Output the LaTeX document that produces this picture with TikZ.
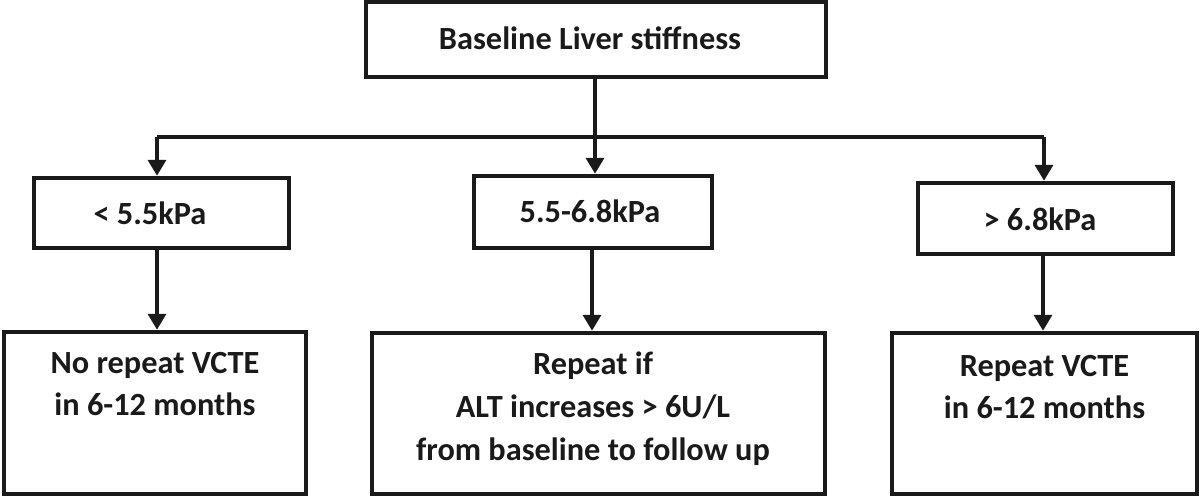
\documentclass[tikz,border=0pt]{standalone}
\usepackage{fontspec}
\setmainfont{Carlito}
\usetikzlibrary{arrows.meta}
\definecolor{ink}{HTML}{1A1A1A}
\begin{document}
\begin{tikzpicture}[x=0.02cm,y=-0.02cm,
  box/.style 2 args={draw=ink, line width=2.5pt, inner sep=0pt,
    minimum width=#1*0.02cm, minimum height=#2*0.02cm},
  txt/.style={font=\fontsize{18.4pt}{24.4pt}\selectfont\bfseries, align=center,
    inner sep=0pt, text=ink},
  conn/.style={draw=ink, line width=2.5pt},
  arr/.style={conn, -{Triangle[width=10pt,length=9pt]}}]
\useasboundingbox (0,0) rectangle (1200,496);
% boxes
\node[box={460}{75}] (top) at (596,39.5) {};
\node[box={255}{70}] (lo) at (161.5,213) {};
\node[box={238}{72}] (mid) at (593,212) {};
\node[box={255}{71}] (hi) at (1045.5,218.5) {};
\node[box={302}{162}] (blo) at (155,413) {};
\node[box={453}{161}] (bmid) at (598.5,413.5) {};
\node[box={305}{161}] (bhi) at (1044.5,413.5) {};
% texts
\node[txt] (ttop) at (590,38) {Baseline Liver stiffness};
\node[txt] (tlo) at (150,213) {< 5.5kPa};
\node[txt] (tmid) at (590,211) {5.5-6.8kPa};
\node[txt] (thi) at (1040,219) {> 6.8kPa};
\node[txt] (tblo) at (155,384) {No repeat VCTE\\in 6-12 months};
\node[txt] (tbmid) at (593,409) {Repeat if\\ALT increases > 6U/L\\from baseline to follow up};
\node[txt] (tbhi) at (1044.5,387) {Repeat VCTE\\in 6-12 months};
% connectors
\coordinate (jl) at (157,137);
\coordinate (jr) at (1044,137);
\coordinate (jm) at (595,137);
\draw[conn] (jl) -- (jr);
\draw[arr] (top.south -| jm) -- (mid.north -| jm);
\draw[arr] (jl) -- (lo.north -| jl);
\draw[arr] (jr) -- (hi.north -| jr);
\coordinate (cl) at (157,0);
\coordinate (cm) at (592,0);
\coordinate (cr) at (1043,0);
\draw[arr] (lo.south -| cl) -- (blo.north -| cl);
\draw[arr] (mid.south -| cm) -- (bmid.north -| cm);
\draw[arr] (hi.south -| cr) -- (bhi.north -| cr);
\end{tikzpicture}
\end{document}
